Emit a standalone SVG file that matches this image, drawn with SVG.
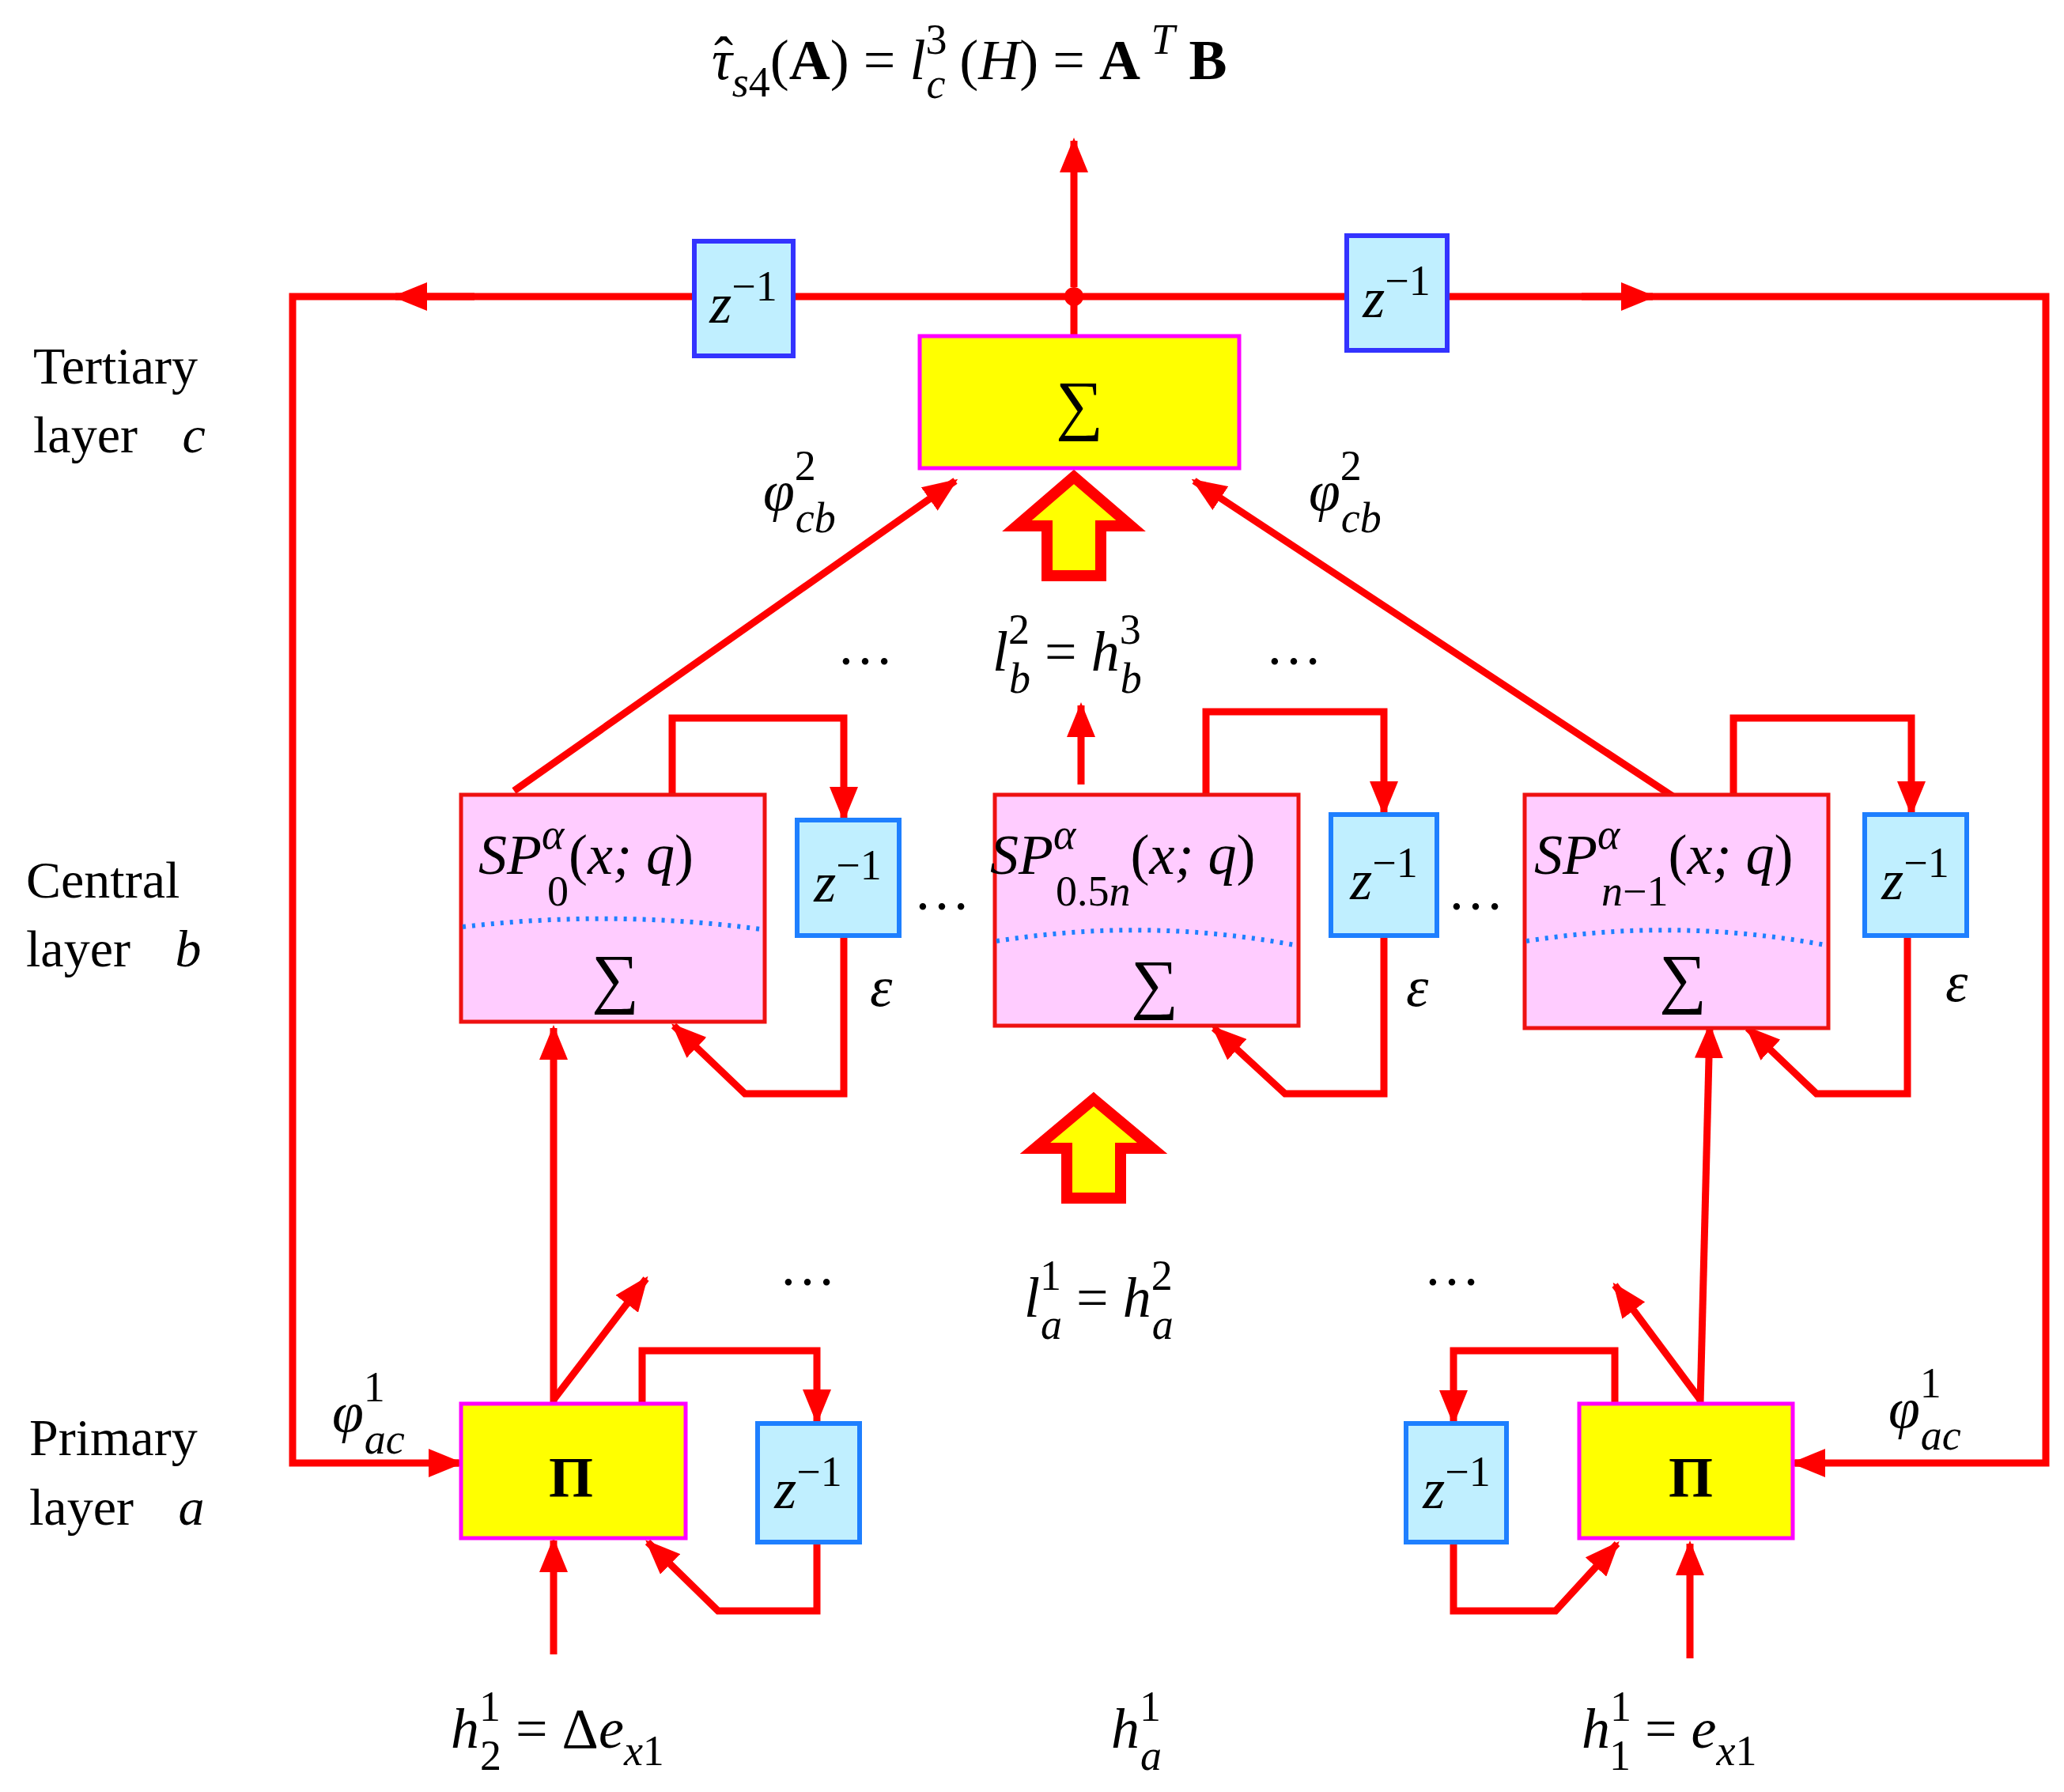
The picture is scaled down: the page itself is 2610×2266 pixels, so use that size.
<svg xmlns="http://www.w3.org/2000/svg" width="2610" height="2266" viewBox="0 0 2610 2266">
<defs>
<marker id="ah" markerUnits="userSpaceOnUse" markerWidth="44" markerHeight="36" refX="40" refY="18" orient="auto"><path d="M0,0 L44,18 L0,36 Z" fill="#ff0000"/></marker>
</defs>
<style>
.ln{fill:none;stroke:#ff0000;stroke-width:9}
.ar{fill:none;stroke:#ff0000;stroke-width:9;marker-end:url(#ah)}
.yel{fill:#ffff00;stroke:#ff00ff;stroke-width:5}
.pink{fill:#ffccff;stroke:#ee1111;stroke-width:5}
.zt{fill:#c0efff;stroke:#3333ff;stroke-width:6}
.zb{fill:#c0efff;stroke:#1e7fff;stroke-width:6}
text{font-family:"Liberation Serif","DejaVu Serif",serif;font-size:72px;fill:#000}
.lab{font-size:66px}
.it{font-style:italic}
.sm{font-size:54px}
.sig{font-size:84px}
.dot{fill:none;stroke:#1e7fff;stroke-width:6;stroke-dasharray:4 8}
.big{fill:#ffff00;stroke:#ff0000;stroke-width:14}
</style>
<g id="connectors">
<path class="ar" d="M1358,363 V178"/>
<path class="ln" d="M1358,425 V375"/>
<circle cx="1358" cy="375" r="12" fill="#ff0000"/>
<path class="ln" d="M1358,375 H370 V1850 H580"/>
<path class="ar" d="M560,1850 H582"/>
<path class="ar" d="M600,375 H500"/>
<path class="ln" d="M1358,375 H2587 V1850 H2270"/>
<path class="ar" d="M2300,1850 H2268"/>
<path class="ar" d="M2000,375 H2090"/>
<path class="ar" d="M650,1000 L1208,608"/>
<path class="ar" d="M2117,1008 L1510,608"/>
<path class="ar" d="M1367,992 V892"/>
<path class="ar" d="M850,1005 V908 H1067 V1035"/>
<path class="ar" d="M1067,1183 V1383 H942 L852,1297"/>
<path class="ar" d="M1525,1005 V900 H1750 V1028"/>
<path class="ar" d="M1750,1183 V1383 H1625 L1535,1300"/>
<path class="ar" d="M2192,1005 V908 H2417 V1028"/>
<path class="ar" d="M2412,1183 V1383 H2297 L2210,1300"/>
<path class="ar" d="M700,1775 V1300"/>
<path class="ar" d="M700,1770 L817,1617"/>
<path class="ar" d="M812,1775 V1708 H1033 V1797"/>
<path class="ar" d="M1033,1950 V2037 H908 L819,1950"/>
<path class="ar" d="M2150,1775 L2162,1298"/>
<path class="ar" d="M2150,1770 L2042,1625"/>
<path class="ar" d="M2042,1775 V1708 H1838 V1798"/>
<path class="ar" d="M1838,1950 V2037 H1967 L2045,1952"/>
<path class="ar" d="M700,2092 V1948"/>
<path class="ar" d="M2137,2097 V1952"/>
<path class="big" d="M1358,603 L1430,665 H1392 V728 H1324 V665 H1286 Z"/>
<path class="big" d="M1383,1390 L1457,1452 H1417 V1515 H1349 V1452 H1309 Z"/>
</g>
<g id="sumTop"><rect class="yel" x="1163" y="425" width="404" height="167"/><text x="1365" y="540" text-anchor="middle" class="sig">∑</text></g>
<g id="zTopL"><rect class="zt" x="878" y="305" width="125" height="145"/><text x="940" y="408" text-anchor="middle" class="it">z<tspan class="sm" dy="-28" font-style="normal">−1</tspan></text></g>
<g id="zTopR"><rect class="zt" x="1703" y="298" width="127" height="145"/><text x="1766" y="401" text-anchor="middle" class="it">z<tspan class="sm" dy="-28" font-style="normal">−1</tspan></text></g>
<g id="sp0"><rect class="pink" x="583" y="1005" width="384" height="287"/><path class="dot" d="M585,1172 Q775,1150 962,1175"/><text x="605" y="1105" class="it">SP<tspan class="sm" dy="-32">α</tspan><tspan class="sm" x="692" dy="72" font-style="normal">0</tspan><tspan dy="-40" font-style="normal">(</tspan>x;<tspan> </tspan>q<tspan font-style="normal">)</tspan></text><text x="778" y="1265" text-anchor="middle" class="sig">∑</text></g>
<g id="sp05"><rect class="pink" x="1258" y="1005" width="384" height="292"/><path class="dot" d="M1260,1190 Q1450,1160 1637,1195"/><text x="1252" y="1105" class="it">SP<tspan class="sm" dy="-32">α</tspan><tspan class="sm" x="1335" dy="72" font-style="normal">0.5</tspan><tspan class="sm">n</tspan><tspan dy="-40" font-style="normal">(</tspan>x;<tspan> </tspan>q<tspan font-style="normal">)</tspan></text><text x="1460" y="1272" text-anchor="middle" class="sig">∑</text></g>
<g id="spn"><rect class="pink" x="1928" y="1005" width="384" height="295"/><path class="dot" d="M1930,1190 Q2120,1160 2308,1195"/><text x="1940" y="1105" class="it">SP<tspan class="sm" dy="-32">α</tspan><tspan class="sm" x="2025" dy="72">n</tspan><tspan class="sm" font-style="normal">−1</tspan><tspan dy="-40" font-style="normal">(</tspan>x;<tspan> </tspan>q<tspan font-style="normal">)</tspan></text><text x="2128" y="1265" text-anchor="middle" class="sig">∑</text></g>
<g id="z1"><rect class="zb" x="1008" y="1037" width="129" height="146"/><text x="1072" y="1140" text-anchor="middle" class="it">z<tspan class="sm" dy="-28" font-style="normal">−1</tspan></text></g>
<g id="z2"><rect class="zb" x="1683" y="1030" width="134" height="153"/><text x="1750" y="1137" text-anchor="middle" class="it">z<tspan class="sm" dy="-28" font-style="normal">−1</tspan></text></g>
<g id="z3"><rect class="zb" x="2358" y="1030" width="129" height="153"/><text x="2422" y="1137" text-anchor="middle" class="it">z<tspan class="sm" dy="-28" font-style="normal">−1</tspan></text></g>
<g id="piL"><rect class="yel" x="583" y="1775" width="284" height="170"/><text x="722" y="1892" text-anchor="middle" font-weight="bold" font-size="84">Π</text></g>
<g id="piR"><rect class="yel" x="1997" y="1775" width="270" height="170"/><text x="2138" y="1892" text-anchor="middle" font-weight="bold" font-size="84">Π</text></g>
<g id="zL"><rect class="zb" x="958" y="1800" width="129" height="150"/><text x="1022" y="1907" text-anchor="middle" class="it">z<tspan class="sm" dy="-28" font-style="normal">−1</tspan></text></g>
<g id="zR"><rect class="zb" x="1778" y="1800" width="127" height="150"/><text x="1842" y="1907" text-anchor="middle" class="it">z<tspan class="sm" dy="-28" font-style="normal">−1</tspan></text></g>
<g id="labels">
<text x="903" y="96" font-size="64">ˆ</text>
<text x="900" y="100" class="it">τ<tspan class="sm" dy="22">s</tspan><tspan class="sm" font-style="normal">4</tspan><tspan dy="-22" font-style="normal">(</tspan><tspan font-weight="bold" font-style="normal">A</tspan><tspan font-style="normal">) = </tspan>l<tspan class="sm" dy="-32" font-style="normal">3</tspan><tspan class="sm" dx="-26" dy="56">c</tspan><tspan dy="-24" font-style="normal"> (</tspan>H<tspan font-style="normal">) = </tspan><tspan font-weight="bold" font-style="normal">A</tspan><tspan class="sm" dy="-32"> T</tspan><tspan dy="32" font-weight="bold" font-style="normal"> B</tspan></text>
<text x="42" y="485" class="lab">Tertiary</text><text x="42" y="572" class="lab">layer <tspan class="it" dx="40">c</tspan></text>
<text x="33" y="1135" class="lab">Central</text><text x="33" y="1222" class="lab">layer <tspan class="it" dx="40">b</tspan></text>
<text x="37" y="1840" class="lab">Primary</text><text x="37" y="1928" class="lab">layer <tspan class="it" dx="40">a</tspan></text>
<text x="965" y="645" class="it">φ<tspan class="sm" dy="-38" font-style="normal">2</tspan><tspan class="sm" dx="-26" dy="66">cb</tspan></text>
<text x="1655" y="645" class="it">φ<tspan class="sm" dy="-38" font-style="normal">2</tspan><tspan class="sm" dx="-26" dy="66">cb</tspan></text>
<text x="420" y="1810" class="it">φ<tspan class="sm" dy="-38" font-style="normal">1</tspan><tspan class="sm" dx="-26" dy="66">ac</tspan></text>
<text x="2388" y="1805" class="it">φ<tspan class="sm" dy="-38" font-style="normal">1</tspan><tspan class="sm" dx="-26" dy="66">ac</tspan></text>
<text x="1058" y="840">…</text><text x="1600" y="840">…</text>
<text x="1255" y="848" class="it">l<tspan class="sm" dy="-34" font-style="normal">2</tspan><tspan class="sm" dx="-26" dy="62">b</tspan><tspan dy="-28" font-style="normal"> = </tspan>h<tspan class="sm" dy="-34" font-style="normal">3</tspan><tspan class="sm" dx="-26" dy="62">b</tspan></text>
<text x="1155" y="1150">…</text><text x="1830" y="1150">…</text>
<text x="1100" y="1272" class="it">ε</text><text x="1778" y="1272" class="it">ε</text><text x="2460" y="1266" class="it">ε</text>
<text x="985" y="1625">…</text><text x="1800" y="1625">…</text>
<text x="1295" y="1665" class="it">l<tspan class="sm" dy="-34" font-style="normal">1</tspan><tspan class="sm" dx="-26" dy="62">a</tspan><tspan dy="-28" font-style="normal"> = </tspan>h<tspan class="sm" dy="-34" font-style="normal">2</tspan><tspan class="sm" dx="-26" dy="62">a</tspan></text>
<text x="570" y="2210" class="it">h<tspan class="sm" dy="-34" font-style="normal">1</tspan><tspan class="sm" dx="-26" dy="62" font-style="normal">2</tspan><tspan dy="-28" font-style="normal"> = Δ</tspan>e<tspan class="sm" dy="22">x</tspan><tspan class="sm" font-style="normal">1</tspan></text>
<text x="1405" y="2210" class="it">h<tspan class="sm" dy="-34" font-style="normal">1</tspan><tspan class="sm" dx="-26" dy="62">a</tspan></text>
<text x="2000" y="2210" class="it">h<tspan class="sm" dy="-34" font-style="normal">1</tspan><tspan class="sm" dx="-26" dy="62" font-style="normal">1</tspan><tspan dy="-28" font-style="normal"> = </tspan>e<tspan class="sm" dy="22">x</tspan><tspan class="sm" font-style="normal">1</tspan></text>
</g>
</svg>
